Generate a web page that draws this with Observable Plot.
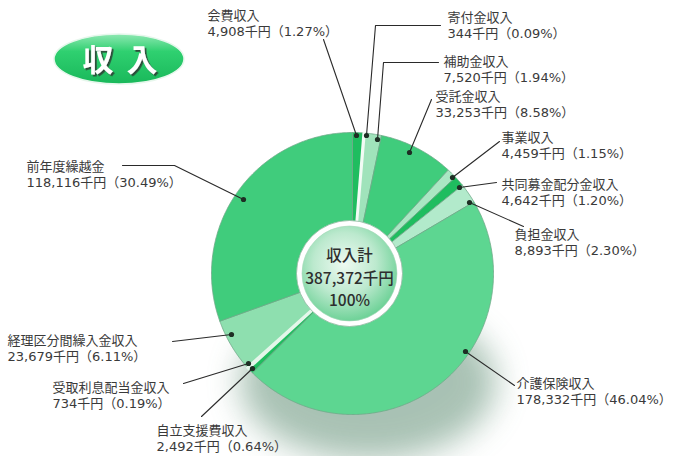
<!DOCTYPE html>
<html><head><meta charset="utf-8">
<script src="https://cdn.jsdelivr.net/npm/d3@7"></script>
<script src="https://cdn.jsdelivr.net/npm/@observablehq/plot@0.6"></script>
<style>
html,body{margin:0;padding:0;background:#fff;}
#chart{width:674px;height:456px;}
</style></head><body><div id="chart"></div>
<script>
// ---- data ----
const categories = ["会費収入","寄付金収入","補助金収入","受託金収入","事業収入","共同募金配分金収入","負担金収入","介護保険収入","自立支援費収入","受取利息配当金収入","経理区分間繰入金収入","前年度繰越金"];
const amounts = [4908,344,7520,33253,4459,4642,8893,178332,2492,734,23679,118116]; // 千円
const percents = ["1.27","0.09","1.94","8.58","1.15","1.20","2.30","46.04","0.64","0.19","6.11","30.49"];
const totalLabel = "収入計";
const totalAmount = 387372;
const totalPercent = "100%";
const chartTitle = "収入";

// ---- styles ----
const sliceColors = ["#1fbd5f","#f2fbf5","#a0e3bb","#40cc7c","#aae7c3","#1fbd5f","#b2eacb","#5dd691","#1fbd5f","#e4f6ea","#8edfaf","#40cc7c"];
const thinSlices = [1, 9];
const FONT = "'Noto Sans CJK JP', 'Noto Sans', sans-serif";
const LABEL_FONT = "'DejaVu Sans', 'Noto Sans CJK JP', sans-serif";

// ---- layout (pixels) ----
const CX = 352, CY = 273, R = 141;       // pie
const ICX = 349, ICY = 273;              // inner circle
const labelPos = [[207,15],[447,17],[443,61],[435,96],[501,137],[501,184],[514,234],[516,383],[156,430],[52,387],[7,340],[26,166]];
const leaders = [
  [[323,39],[356,135]],
  [[440,25],[375,25],[366,135]],
  [[438,62],[383,62],[377,139]],
  [[431,99],[409,152]],
  [[499,141],[452,177]],
  [[496,182],[459,187]],
  [[523,226],[469,202]],
  [[514,385],[465,351]],
  [[201,416],[252,368]],
  [[183,383],[248,363]],
  [[172,341],[231,334]],
  [[122,165],[174,165],[243,199]]
];

const fmt = d3.format(",");
const labels = categories.map((c,i)=>({
  name: c,
  text: `${c}\n${fmt(amounts[i])}千円（${percents[i]}%）`,
  x: labelPos[i][0], y: labelPos[i][1] - 7.5
}));

const arcs = d3.pie().sort(null).value(d=>d)(amounts);
const slicePts = [];
arcs.forEach((a,i)=>{
  const n = Math.max(2, Math.ceil((a.endAngle-a.startAngle)/(Math.PI/360)));
  slicePts.push({k:i, x:CX, y:CY});
  for (let j=0;j<=n;j++){
    const t = a.startAngle + (a.endAngle-a.startAngle)*j/n;
    slicePts.push({k:i, x:CX + R*Math.sin(t), y:CY - R*Math.cos(t)});
  }
  slicePts.push({k:i, x:CX, y:CY});
});
const leaderPts = leaders.flatMap((pts,i)=>pts.map(p=>({k:i,x:p[0],y:p[1]})));
const dotPts = leaders.map((pts,i)=>{const p = pts[pts.length-1]; return {k:i,x:p[0],y:p[1]};});

const plot = Plot.plot({
  width: 674, height: 456, margin: 0,
  x: {domain:[0,674], range:[0,674], axis:null},
  y: {domain:[0,456], range:[0,456], axis:null},
  color: {type:"identity"},
  style: {fontFamily: FONT, background:"transparent", overflow:"visible"},
  marks: [
    Plot.line(slicePts, {x:"x", y:"y", z:"k", fill: d=>sliceColors[d.k], stroke:"#6ea888", strokeWidth:0.8, strokeLinejoin:"round", curve:"linear"}),
    Plot.line(slicePts.filter(d=>thinSlices.includes(d.k)), {x:"x", y:"y", z:"k", fill: d=>sliceColors[d.k], stroke: d=>sliceColors[d.k], strokeWidth:2.6, curve:"linear"}),
    Plot.dot([{x:ICX,y:ICY}], {x:"x", y:"y", r:53, fill:"#ffffff", stroke:"#8fb8a0", strokeWidth:0.8}),
    Plot.dot([{x:ICX,y:ICY}], {x:"x", y:"y", r:47.5, fill:"#bfead0", stroke:"#a8d8bb", strokeWidth:0.6}),
    Plot.text([{x:ICX, y:ICY+3, t:`${totalLabel}\n${fmt(totalAmount)}千円\n${totalPercent}`}], {x:"x", y:"y", text:"t", fontSize:15.5, fontWeight:500, fill:"#2e2e2e", lineHeight:1.46, lineAnchor:"middle", textAnchor:"middle"}),
    Plot.line(leaderPts, {x:"x", y:"y", z:"k", stroke:"#2a2a2a", strokeWidth:1.1}),
    Plot.dot(dotPts, {x:"x", y:"y", r:2.6, fill:"#1e2e24", stroke:"none"}),
    Plot.text(labels, {x:"x", y:"y", text:"text", textAnchor:"start", lineAnchor:"top", lineHeight:1.28, fontSize:13, fill:"#3a3a3a", fontFamily: LABEL_FONT}),
    Plot.text([{x:82,y:61,t:chartTitle}], {x:"x", y:"y", text:"t", fontSize:31, fontWeight:"bold", fill:"#ffffff", textAnchor:"start"})
  ]
});

// decorative defs: gradients, shadow, title pill
const svg = d3.select(plot);
const defs = svg.insert("defs", ":first-child");
const blur = defs.append("filter").attr("id","blur").attr("x","-50%").attr("y","-50%").attr("width","200%").attr("height","200%");
blur.append("feGaussianBlur").attr("stdDeviation", 16);
const ds = defs.append("filter").attr("id","tshadow").attr("x","-20%").attr("y","-20%").attr("width","140%").attr("height","140%");
ds.append("feDropShadow").attr("dx",1.8).attr("dy",1.8).attr("stdDeviation",0.6).attr("flood-color","#2f3d35").attr("flood-opacity",0.9);
const ig = defs.append("radialGradient").attr("id","innerGrad").attr("cx","45%").attr("cy","40%").attr("r","60%");
ig.append("stop").attr("offset","0%").attr("stop-color","#eefaf2");
ig.append("stop").attr("offset","55%").attr("stop-color","#bce9ce");
ig.append("stop").attr("offset","100%").attr("stop-color","#6fd298");
const tg = defs.append("linearGradient").attr("id","titleGrad").attr("x1","0").attr("y1","0").attr("x2","0").attr("y2","1");
tg.append("stop").attr("offset","0%").attr("stop-color","#8ee8b2");
tg.append("stop").attr("offset","35%").attr("stop-color","#2fd070");
tg.append("stop").attr("offset","100%").attr("stop-color","#19b85a");
const deco = svg.insert("g", "defs + *");
deco.append("ellipse").attr("cx",368).attr("cy",382).attr("rx",128).attr("ry",78).attr("fill","#5a8a6f").attr("opacity",0.52).attr("filter","url(#blur)");
deco.append("ellipse").attr("cx",119).attr("cy",59).attr("rx",65).attr("ry",25).attr("fill","url(#titleGrad)").attr("stroke","#e6f7ec").attr("stroke-width",1.5);

// style by content: inner circle (r = 47.5) and title text
svg.selectAll("circle").filter(function(){ return Math.abs(+this.getAttribute("r") - 47.5) < 0.01; })
  .attr("fill", "url(#innerGrad)").style("fill", "url(#innerGrad)");
svg.selectAll("text").filter(function(){ return this.textContent === chartTitle; })
  .attr("textLength", 75).attr("lengthAdjust", "spacing").attr("filter", "url(#tshadow)");

document.getElementById("chart").appendChild(plot);
</script>
</body></html>
